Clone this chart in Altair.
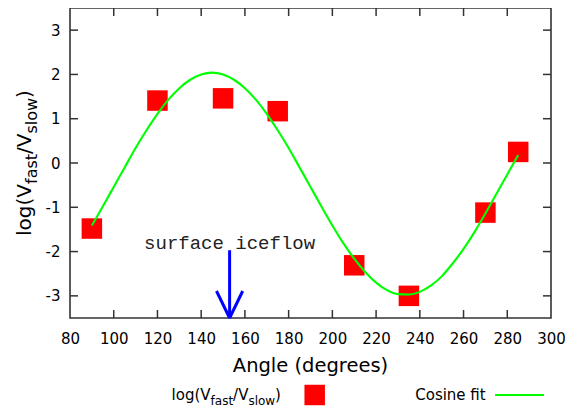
import altair as alt
import pandas as pd

# ---- data ----
angles = [90, 120, 150, 175, 210, 235, 270, 285]
log_ratio = [-1.48, 1.41, 1.46, 1.17, -2.31, -3.00, -1.12, 0.25]

fit_angles = [90, 95, 100, 105, 110, 115, 120, 125, 130, 135, 140, 145, 150, 155,
              160, 165, 170, 175, 180, 185, 190, 195, 200, 205, 210, 215, 220, 225,
              230, 235, 240, 245, 250, 255, 260, 265, 270, 275, 280, 285]
fit_values = [-1.41, -0.98, -0.54, -0.10, 0.34, 0.74, 1.11, 1.43, 1.69, 1.88, 2.00, 2.04,
              2.00, 1.88, 1.69, 1.43, 1.11, 0.74, 0.34, -0.10, -0.54, -0.98, -1.41, -1.81,
              -2.16, -2.46, -2.70, -2.87, -2.96, -2.97, -2.91, -2.77, -2.56, -2.27, -1.94,
              -1.56, -1.14, -0.70, -0.26, 0.18]

x_ticks = [80, 100, 120, 140, 160, 180, 200, 220, 240, 260, 280, 300]
y_ticks = [-3, -2, -1, 0, 1, 2, 3]

arrow_x = [153, 147, 159]
arrow_y = [-1.97, -2.89, -2.89]
arrow_x2 = [153, 153, 153]
arrow_y2 = [-3.5, -3.5, -3.5]

note_text = ["surface iceflow"]
note_x = [153]
note_y = [-1.95]

# ---- layout ----
W, H = 481, 310
FONT = "DejaVu Sans"
FRAME = "#333333"

xs = alt.Scale(domain=[80, 300], nice=False, zero=False)
ys = alt.Scale(domain=[-3.5, 3.5], nice=False, zero=False)

pts = pd.DataFrame({"angle": angles, "v": log_ratio})
fit = pd.DataFrame({"angle": fit_angles, "v": fit_values})
arrow = pd.DataFrame({"x": arrow_x, "y": arrow_y, "x2": arrow_x2, "y2": arrow_y2})
note = pd.DataFrame({"x": note_x, "y": note_y, "t": note_text})
xt = pd.DataFrame({"t": [t for t in x_ticks if t not in (80, 300)]})
yt = pd.DataFrame({"t": y_ticks})

x_axis = alt.Axis(values=x_ticks, title=None, grid=False, domain=False, ticks=False,
                  tickSize=0, labelPadding=13, labelFontSize=15, labelFont=FONT,
                  labelColor="#000000", labelFlush=False, labelOverlap=False)
y_axis = alt.Axis(values=y_ticks, title=None, grid=False, domain=False, ticks=False,
                  tickSize=0, labelPadding=10, labelFontSize=15, labelFont=FONT,
                  labelColor="#000000", labelExpr="'' + datum.value")


def X(f):
    return alt.X(f, scale=xs, axis=x_axis, title=None)


def Y(f):
    return alt.Y(f, scale=ys, axis=y_axis, title=None)


points = alt.Chart(pts).mark_square(size=420, color="#ff0000", opacity=1).encode(
    x=X("angle:Q"), y=Y("v:Q"))

line = alt.Chart(fit).mark_line(color="#00ff00", strokeWidth=2.1, interpolate="monotone").encode(
    x=X("angle:Q"), y=Y("v:Q"))

arrows = alt.Chart(arrow).mark_rule(color="#0000ff", strokeWidth=3).encode(
    x=X("x:Q"), y=Y("y:Q"), x2="x2:Q", y2="y2:Q")

note_layer = alt.Chart(note).mark_text(font="Liberation Mono", fontSize=19, color="#222222",
                                       align="center", baseline="alphabetic").encode(
    x=X("x:Q"), y=Y("y:Q"), text="t:N")

TL = 8
tick_layers = [
    alt.Chart(xt).mark_rule(color=FRAME, strokeWidth=1.5).encode(
        x=X("t:Q"), y=alt.value(H), y2=alt.value(H - TL)),
    alt.Chart(xt).mark_rule(color=FRAME, strokeWidth=1.5).encode(
        x=X("t:Q"), y=alt.value(0), y2=alt.value(TL)),
    alt.Chart(yt).mark_rule(color=FRAME, strokeWidth=1.5).encode(
        y=Y("t:Q"), x=alt.value(0), x2=alt.value(TL)),
    alt.Chart(yt).mark_rule(color=FRAME, strokeWidth=1.5).encode(
        y=Y("t:Q"), x=alt.value(W), x2=alt.value(W - TL)),
]


def txt(s, x, y, size, dx=0, dy=0, angle=0, align="left", font=FONT):
    kw = dict(font=font, fontSize=size, color="#000000", align=align,
              baseline="alphabetic", dx=dx, dy=dy)
    if angle:
        kw["angle"] = angle
    return alt.Chart(alt.Data(values=[{"t": s}])).mark_text(**kw).encode(
        text="t:N", x=alt.value(x), y=alt.value(y))


# y-axis title with subscripts (rotated)
YX, YY = -39, 228
ytitle = [
    txt("log(V", YX, YY, 20, dx=0, angle=270),
    txt("fast", YX, YY, 16, dx=52.0, dy=6, angle=270),
    txt("/V", YX, YY, 20, dx=82.0, angle=270),
    txt("slow", YX, YY, 16, dx=102.4, dy=6, angle=270),
    txt(")", YX, YY, 20, dx=138.1, angle=270),
]

xtitle = txt("Angle (degrees)", W / 2, 364, 19.5, align="center")

# legend
LX, LY = 101.6, 392
legend = [
    txt("log(V", LX, LY, 15, dx=0),
    txt("fast", LX, LY, 12, dx=39.0, dy=4.5),
    txt("/V", LX, LY, 15, dx=61.5),
    txt("slow", LX, LY, 12, dx=76.8, dy=4.5),
    txt(")", LX, LY, 15, dx=103.5),
    alt.Chart(alt.Data(values=[{"a": 1}])).mark_square(size=420, color="#ff0000", opacity=1).encode(
        x=alt.value(244.7), y=alt.value(387)),
    txt("Cosine fit", 415.7, LY, 15, align="right"),
    alt.Chart(alt.Data(values=[{"a": 1}])).mark_rule(color="#00ff00", strokeWidth=2.2).encode(
        x=alt.value(425), x2=alt.value(474), y=alt.value(387)),
]

chart = alt.layer(
    points, line, arrows, note_layer, *tick_layers, *ytitle, xtitle, *legend
).properties(
    width=W, height=H,
    autosize=alt.AutoSizeParams(type="none"),
    padding={"left": 62, "top": 0, "right": 15, "bottom": 88},
).configure_view(stroke=FRAME, strokeWidth=1.6)

chart.save("out.html", embed_options={"renderer": "svg", "actions": False})
